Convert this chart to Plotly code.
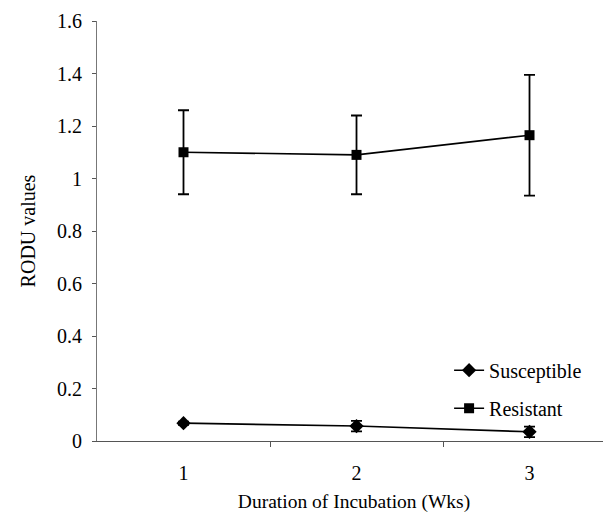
import plotly.graph_objects as go

weeks = [1, 2, 3]
week_labels = ["1", "2", "3"]
susceptible = [0.068, 0.057, 0.035]
susceptible_err = [0.006, 0.02, 0.02]
resistant = [1.10, 1.09, 1.165]
resistant_err = [0.16, 0.15, 0.23]

font_family = "Liberation Serif, Times New Roman, serif"

fig = go.Figure()
fig.add_trace(go.Scatter(
    x=weeks, y=susceptible, name="Susceptible", mode="lines+markers",
    legendgroup="s",
    line=dict(color="black", width=1.6),
    marker=dict(symbol="diamond", size=11, color="black"),
    error_y=dict(type="data", array=susceptible_err, visible=True,
                 color="black", thickness=1.8, width=5.5),
))
fig.add_trace(go.Scatter(
    x=weeks, y=resistant, name="Resistant", mode="lines+markers",
    legendgroup="r",
    line=dict(color="black", width=1.6),
    marker=dict(symbol="square", size=10, color="black"),
    error_y=dict(type="data", array=resistant_err, visible=True,
                 color="black", thickness=1.8, width=5.5),
))

fig.update_layout(
    width=603, height=505,
    margin=dict(l=89, r=0, t=13, b=72, autoexpand=False),
    paper_bgcolor="white", plot_bgcolor="white",
    font=dict(family=font_family, size=20, color="black"),
    showlegend=True,
    legend=dict(x=0.685, y=0.215, xanchor="left", yanchor="top",
                font=dict(size=20), bgcolor="rgba(0,0,0,0)",
                traceorder="grouped", tracegroupgap=9),
    xaxis=dict(
        range=[0.5, 3.471], tickvals=weeks, ticktext=week_labels,
        ticks="", showgrid=False, zeroline=False,
        showline=True, linecolor="#555555", linewidth=1,
        minor=dict(tickvals=[1.5, 2.5], ticks="outside", ticklen=5,
                   tickcolor="#555555", showgrid=False),
        title=dict(text="Duration of Incubation (Wks)", font=dict(size=19.5), standoff=22),
        ticklabelstandoff=14,
    ),
    yaxis=dict(
        range=[0, 1.6], tickvals=[0, 0.2, 0.4, 0.6, 0.8, 1.0, 1.2, 1.4, 1.6],
        ticktext=["0", "0.2", "0.4", "0.6", "0.8", "1", "1.2", "1.4", "1.6"],
        ticks="outside", ticklen=4, tickcolor="#555555",
        showgrid=False, zeroline=False,
        showline=True, linecolor="#777777", linewidth=1,
        ticklabelstandoff=6,
        title=dict(text="RODU values", font=dict(size=20), standoff=16),
    ),
)

fig.write_html("out.html")
